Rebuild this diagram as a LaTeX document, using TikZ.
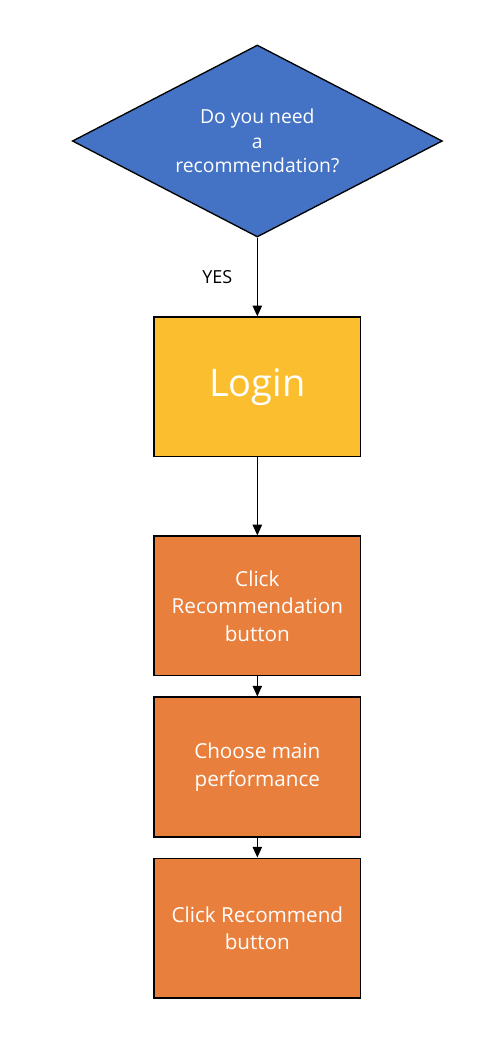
\documentclass[tikz,border=0pt]{standalone}
\usepackage{fontspec}
\setmainfont{Open Sans}
\usepackage{xcolor}
\usetikzlibrary{arrows.meta, shapes.geometric, positioning}
\definecolor{askblue}{RGB}{68, 114, 196}
\definecolor{logingold}{RGB}{251, 190, 46}
\definecolor{stepor}{RGB}{233, 127, 60}

\begin{document}
\begin{tikzpicture}[
          node distance=15pt,
          ask/.style={diamond, draw, line width=1pt, fill=askblue, text=white, aspect=1.93,
                      minimum width=277.5pt, minimum height=144pt, inner sep=0pt,
                      font=\fontsize{14.5}{18.5}\selectfont, align=center},
          box/.style={draw, line width=1.2pt, minimum width=155pt, minimum height=104.6pt,
                      text=white, font=\fontsize{15.5}{20.5}\selectfont, align=center, fill=stepor},
          arr/.style={-{Triangle[length=8pt, width=7pt]}, line width=1pt},
        ]
        \useasboundingbox (0,0) rectangle (376.5pt,-784.5pt);
        \node[ask] (need) at (193pt,-105.75pt) {Do you need\\a\\recommendation?};
        \node[box, below=59pt of need, fill=logingold, font=\fontsize{28.5}{32}\selectfont] (login) {Login};
        \node[box, below=58.5pt of login] (clk)  {Click\\Recommendation\\button};
        \node[box, below=of clk]  (perf) {Choose main\\performance};
        \node[box, below=of perf] (rec)  {Click Recommend\\button};
        \draw[arr] (need) -- node[left=15pt, font=\fontsize{13.5}{15}\selectfont] {YES} (login);
        \draw[arr] (login) -- (clk);
        \draw[arr] (clk)   -- (perf);
        \draw[arr] (perf)  -- (rec);
      \end{tikzpicture}
\end{document}
